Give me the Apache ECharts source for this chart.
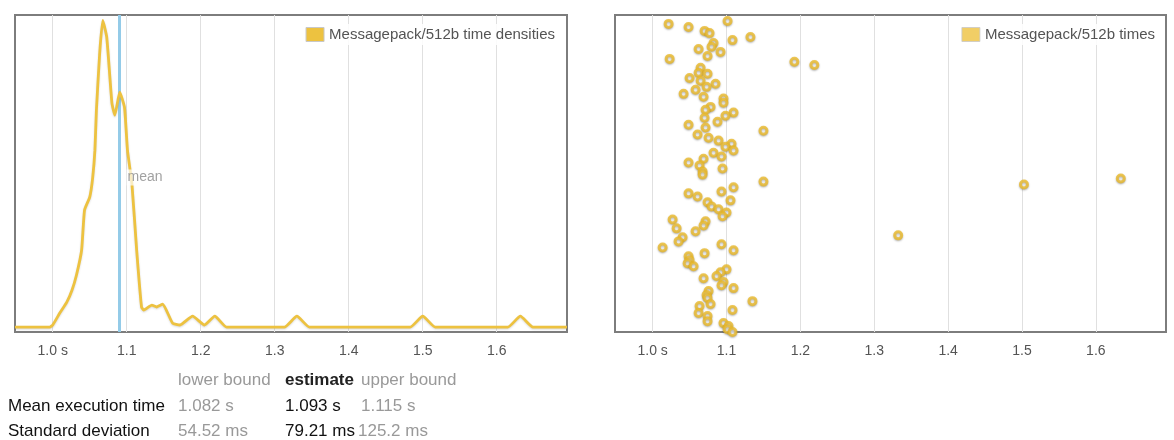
<!DOCTYPE html>
<html>
<head>
<meta charset="utf-8">
<script src="https://cdn.jsdelivr.net/npm/echarts@6/dist/echarts.min.js"></script>
<style>
  html, body { margin: 0; padding: 0; background: #fff; }
  #report { width: 1174px; height: 440px; }
</style>
</head>
<body>
<div id="report"></div>
<script>
// ticks shared by both charts (seconds)
var tickValues = [1.0, 1.1, 1.2, 1.3, 1.4, 1.5, 1.6];

// kernel density of the run times (relative units, peak = 100)
var densityTimes = [0.949, 0.996, 1.000, 1.0095, 1.019, 1.026, 1.032, 1.039, 1.043, 1.050,
  1.054, 1.057, 1.059, 1.0635, 1.0676, 1.073, 1.080, 1.084, 1.0905, 1.097,
  1.101, 1.107, 1.1135, 1.120, 1.123, 1.134, 1.1405, 1.1486, 1.162, 1.172,
  1.189, 1.205, 1.219, 1.235, 1.313, 1.330, 1.347, 1.483, 1.500, 1.517,
  1.615, 1.632, 1.649, 1.695];
var densityValues = [0, 0, 0.7, 4.6, 8.2, 12.1, 17, 25.2, 38.4, 42.6,
  49, 58, 71, 90, 100.5, 95, 73.4, 69.5, 77, 72,
  58, 47, 25, 6.6, 5.6, 7.2, 6.6, 7.5, 1.3, 0.7,
  3.6, 0.7, 3.6, 0, 0, 3.6, 0, 0, 3.6, 0,
  0, 3.6, 0, 0];

var meanTime = 1.093;

// individual samples: time (s) and sample position
var sampleTimes = [1.0216, 1.0486, 1.1014, 1.0703, 1.0770, 1.1081, 1.1324, 1.0824, 1.0797, 1.0622,
  1.0919, 1.0743, 1.0230, 1.1919, 1.2189, 1.0649, 1.0622, 1.0743, 1.0500, 1.0649,
  1.0851, 1.0730, 1.0581, 1.0419, 1.0689, 1.0959, 1.0959, 1.0784, 1.0716, 1.1095,
  1.0986, 1.0703, 1.0878, 1.0486, 1.0716, 1.1500, 1.0608, 1.0757, 1.0892, 1.1068,
  1.0986, 1.1095, 1.0824, 1.0932, 1.0689, 1.0486, 1.0635, 1.0946, 1.0676, 1.0676,
  1.1500, 1.1095, 1.0932, 1.0486, 1.0608, 1.1054, 1.0743, 1.0797, 1.0892, 1.1000,
  1.0946, 1.0270, 1.0716, 1.0689, 1.0324, 1.0581, 1.3324, 1.0405, 1.0351, 1.0932,
  1.0135, 1.1095, 1.0703, 1.0486, 1.0500, 1.0473, 1.0554, 1.1000, 1.0919, 1.0865,
  1.0689, 1.0959, 1.0932, 1.1095, 1.0757, 1.0730, 1.0743, 1.1351, 1.0784, 1.0635,
  1.1081, 1.0622, 1.0743, 1.0743, 1.0959, 1.1027, 1.1014, 1.1081, 1.5027, 1.6338];
var samplePos = [96.9, 95.9, 97.8, 94.7, 94.0, 91.8, 92.8, 90.9, 89.7, 89.0,
  88.1, 86.8, 85.9, 85.0, 84.0, 83.1, 81.5, 81.2, 79.9, 79.0,
  78.1, 77.1, 76.2, 74.9, 74.0, 73.4, 72.1, 70.8, 69.9, 69.0,
  68.0, 67.4, 66.1, 65.2, 64.3, 63.3, 62.1, 61.1, 60.2, 59.2,
  58.3, 57.1, 56.4, 55.2, 54.5, 53.3, 52.4, 51.4, 50.5, 49.5,
  47.3, 45.5, 44.2, 43.6, 42.6, 41.4, 40.8, 39.5, 38.6, 37.6,
  36.4, 35.4, 34.8, 33.5, 32.6, 31.7, 30.4, 29.8, 28.5, 27.6,
  26.6, 25.7, 24.8, 23.8, 22.6, 21.6, 20.7, 19.7, 18.8, 17.6,
  16.9, 15.7, 14.7, 13.8, 12.9, 11.6, 10.7, 9.7, 8.8, 8.2,
  6.9, 6.0, 5.0, 3.4, 2.8, 1.9, 0.9, 0.0, 46.4, 48.3];

// summary table
var tableHeader = ['lower bound', 'estimate', 'upper bound'];
var rowLabels = ['Mean execution time', 'Standard deviation'];
var meanRow = ['1.082 s', '1.093 s', '1.115 s'];
var sdRow = ['54.52 ms', '79.21 ms', '125.2 ms'];

var densityName = 'Messagepack/512b time densities';
var timesName = 'Messagepack/512b times';

var gold = '#edc240';
var font = '"Liberation Sans", Arial, sans-serif';

var densityData = densityTimes.map(function (t, i) { return [t, densityValues[i]]; });
var sampleData = sampleTimes.map(function (t, i) { return [t, samplePos[i]]; });

function timeAxis(gridIndex) {
  return {
    type: 'value',
    gridIndex: gridIndex,
    min: 0.949,
    max: 1.695,
    axisLine: {show: false},
    axisTick: {show: false, customValues: tickValues},
    axisLabel: {
      customValues: tickValues,
      formatter: function (v) { return v === 1 ? '1.0 s' : v.toFixed(1); },
      color: '#545454',
      fontSize: 14,
      fontFamily: font,
      margin: 12
    },
    splitLine: {show: true, lineStyle: {color: '#e0e0e0', width: 1}}
  };
}

function legendBox(name, right) {
  return {
    data: [{name: name, itemStyle: {color: gold, borderColor: '#c8c8c8', borderWidth: 1}}],
    icon: 'rect',
    itemWidth: 18,
    itemHeight: 14,
    right: right,
    top: 24,
    padding: [3, 4],
    backgroundColor: 'rgba(255,255,255,0.85)',
    selectedMode: false,
    textStyle: {color: '#545454', fontSize: 15, fontFamily: font}
  };
}

// table text
var graphics = [];
var colX = [178, 285, 361];
var rowY = [380, 406, 431];
tableHeader.forEach(function (h, i) {
  graphics.push({type: 'text', x: colX[i], y: rowY[0], style: {
    text: h, fill: i === 1 ? '#222' : '#999', fontSize: 17, fontFamily: font,
    fontWeight: i === 1 ? 'bold' : 'normal', verticalAlign: 'middle'}});
});
[meanRow, sdRow].forEach(function (row, r) {
  graphics.push({type: 'text', x: 8, y: rowY[r + 1], style: {
    text: rowLabels[r], fill: '#111', fontSize: 17, fontFamily: font, verticalAlign: 'middle'}});
  row.forEach(function (cell, i) {
    graphics.push({type: 'text', x: (r === 1 && i === 2) ? 358 : colX[i], y: rowY[r + 1], style: {
      text: cell, fill: i === 1 ? '#111' : '#999', fontSize: 17, fontFamily: font, verticalAlign: 'middle'}});
  });
});

var chart = echarts.init(document.getElementById('report'));
var option = {
  animation: false,
  backgroundColor: '#fff',
  grid: [
    {left: 15, top: 15, width: 552, height: 317, show: true, borderColor: '#7d7d7d', borderWidth: 2},
    {left: 615, top: 15, width: 551, height: 317, show: true, borderColor: '#7d7d7d', borderWidth: 2}
  ],
  xAxis: [timeAxis(0), timeAxis(1)],
  yAxis: [
    {type: 'value', gridIndex: 0, min: -1.6, max: 102.3, show: false},
    {type: 'value', gridIndex: 1, min: 0, max: 99.7, show: false}
  ],
  legend: [legendBox(densityName, 615), legendBox(timesName, 15)],
  graphic: graphics,
  series: [
    {
      name: densityName,
      type: 'line',
      xAxisIndex: 0,
      yAxisIndex: 0,
      data: densityData,
      showSymbol: false,
      smooth: 0.15,
      z: 2,
      itemStyle: {color: gold},
      lineStyle: {color: gold, width: 2.8, shadowColor: 'rgba(0,0,0,0.15)', shadowBlur: 2, shadowOffsetY: 1},
      markLine: {
        z: 1,
        silent: true,
        symbol: 'none',
        label: {show: false},
        lineStyle: {color: '#94cbe8', width: 3, type: 'solid'},
        data: [{xAxis: meanTime}]
      }
    },
    {
      name: 'mean',
      type: 'scatter',
      xAxisIndex: 0,
      yAxisIndex: 0,
      data: [[meanTime, 49]],
      symbolSize: 0,
      silent: true,
      z: 4,
      label: {
        show: true,
        formatter: 'mean',
        position: 'right',
        distance: 5,
        color: '#8a8a8a',
        fontSize: 14,
        fontFamily: font,
        backgroundColor: 'rgba(255,255,255,0.85)',
        padding: [1, 1]
      }
    },
    {
      name: timesName,
      type: 'scatter',
      xAxisIndex: 1,
      yAxisIndex: 1,
      data: sampleData,
      symbol: 'circle',
      symbolSize: 7,
      itemStyle: {color: '#fff', borderColor: '#ecbc2c', borderWidth: 3,
        shadowColor: 'rgba(0,0,0,0.3)', shadowBlur: 2, shadowOffsetY: 1}
    }
  ]
};
chart.setOption(option);
</script>
</body>
</html>
